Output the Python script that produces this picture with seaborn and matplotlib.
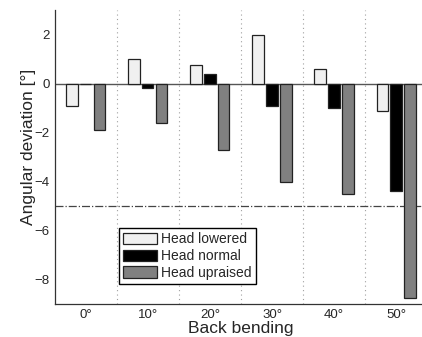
import numpy as np
import pandas as pd
import seaborn as sns
import matplotlib.pyplot as plt

bending = ['0°', '10°', '20°', '30°', '40°', '50°']
head_lowered = [-0.9, 1.0, 0.75, 2.0, 0.6, -1.1]
head_normal = [-0.02, -0.2, 0.4, -0.9, -1.0, -4.4]
head_upraised = [-1.9, -1.6, -2.7, -4.0, -4.5, -8.75]
series = ['Head lowered', 'Head normal', 'Head upraised']
threshold = -5

sns.set_style("white")
plt.rcParams['font.family'] = ['Liberation Sans', 'DejaVu Sans']

df = pd.DataFrame({
    'Back bending': bending * 3,
    'value': head_lowered + head_normal + head_upraised,
    'Head': np.repeat(series, len(bending)),
})

fig = plt.figure(figsize=(4.22, 3.37), dpi=100)
ax = fig.add_axes([0.130, 0.098, 0.882, 0.872])

pal = {'Head lowered': '#f0f0f0', 'Head normal': '#000000', 'Head upraised': '#808080'}
sns.barplot(data=df, x='Back bending', y='value', hue='Head', palette=pal,
            width=0.675, gap=0.2, edgecolor='#222222', linewidth=0.9, ax=ax, zorder=3)

# dotted separators between bending groups
for xv in np.arange(len(bending) - 1) + 0.5:
    ax.axvline(xv, color='#a0a0a0', linestyle=(0, (1, 3)), linewidth=0.8, zorder=0)
ax.axhline(0, color='#555555', linewidth=1.0, zorder=2)
ax.axhline(threshold, color='#444444', linestyle='-.', linewidth=0.9, zorder=2)

ax.set_xlim(-0.5, 5.5)
ax.set_ylim(-9, 3)
ax.set_yticks([-8, -6, -4, -2, 0, 2])
ax.set_xlabel('Back bending', fontsize=12.5, labelpad=0)
ax.set_ylabel('Angular deviation [°]', fontsize=12.5)
ax.yaxis.set_label_coords(-0.05, 0.535)
ax.tick_params(direction='in', length=3, labelsize=9.5, color='#333333')
for s in ['top', 'right']:
    ax.spines[s].set_visible(False)
for s in ['left', 'bottom']:
    ax.spines[s].set_color('#333333')
    ax.spines[s].set_linewidth(0.9)

leg = ax.legend(loc='lower left', bbox_to_anchor=(0.172, 0.068), fontsize=10,
                frameon=True, fancybox=False, edgecolor='black', framealpha=1,
                borderpad=0.3, labelspacing=0.2, handlelength=2.45, handleheight=0.85,
                handletextpad=0.3, borderaxespad=0)
leg.get_frame().set_linewidth(1.0)

fig.savefig('out.png', dpi=100)
